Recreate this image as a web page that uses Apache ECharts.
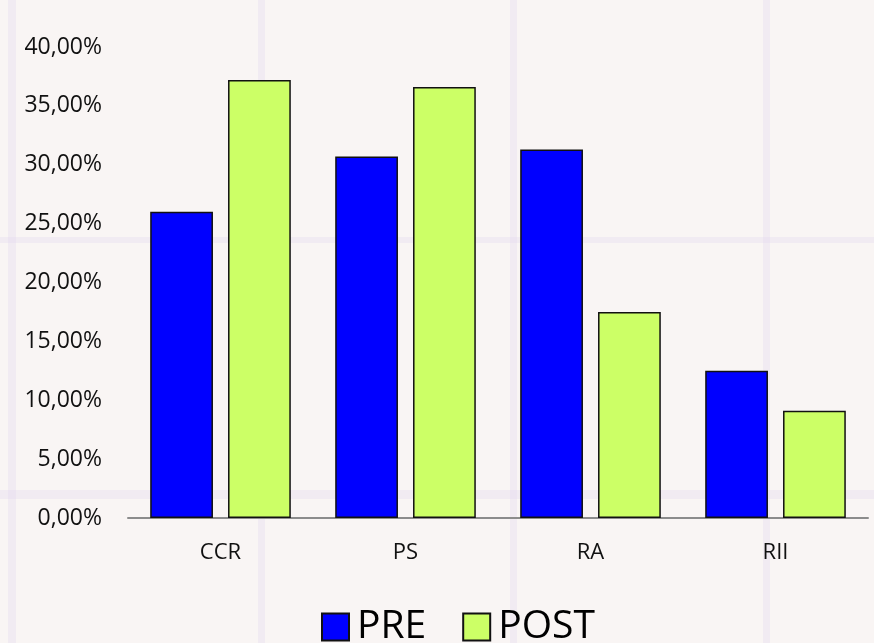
<!DOCTYPE html>
<html>
<head>
<meta charset="utf-8">
<script src="https://cdn.jsdelivr.net/npm/echarts@6/dist/echarts.min.js"></script>
<style>
html,body{margin:0;padding:0;background:#f9f5f4;}
#c{width:874px;height:643px;}
</style>
</head>
<body>
<div id="c"></div>
<script>
var categories = ['CCR', 'PS', 'RA', 'RII'];
var preValues = [26.0, 30.7, 31.3, 12.5];
var postValues = [37.2, 36.6, 17.5, 9.1];
var yTicks = [0, 5, 10, 15, 20, 25, 30, 35, 40];

var chart = echarts.init(document.getElementById('c'), null, {renderer: 'canvas'});
var bandColor = 'rgba(228,218,238,0.38)';
var bands = [];
[[8,8],[258,7],[510,7],[763,7]].forEach(function(b){
  bands.push({type:'rect', z:-10, silent:true, shape:{x:b[0], y:0, width:b[1], height:643}, style:{fill:bandColor}});
});
[[237,6],[490,9]].forEach(function(b){
  bands.push({type:'rect', z:-10, silent:true, shape:{x:0, y:b[0], width:874, height:b[1]}, style:{fill:bandColor}});
});

chart.setOption({
  backgroundColor: '#f9f5f4',
  animation: false,
  textStyle: {fontFamily: 'Open Sans'},
  graphic: bands,
  grid: {left: 128, right: 6, top: 47, bottom: 125, containLabel: false},
  legend: {
    data: ['PRE', 'POST'],
    left: 316,
    top: 601,
    icon: 'rect',
    itemWidth: 27,
    itemHeight: 27,
    itemGap: 36,
    textStyle: {fontSize: 39, color: '#000', fontFamily: 'Open Sans', padding: [0, 0, 0, 3], lineHeight: 42}
  },
  xAxis: {
    type: 'category',
    data: categories,
    axisLine: {lineStyle: {color: '#8c8c8c', width: 2}},
    axisTick: {show: false},
    axisLabel: {fontSize: 22, color: '#111', margin: 24, fontFamily: 'Open Sans'}
  },
  yAxis: {
    type: 'value',
    min: yTicks[0],
    max: yTicks[yTicks.length - 1],
    interval: 5,
    axisLine: {show: false},
    axisTick: {show: false},
    splitLine: {show: false},
    axisLabel: {
      fontSize: 23, color: '#111', margin: 26, fontFamily: 'Open Sans',
      formatter: function(v){ return v.toFixed(2).replace('.', ',') + '%'; }
    }
  },
  series: [
    {
      name: 'PRE', type: 'bar', data: preValues,
      barGap: '24%', barCategoryGap: '24%',
      itemStyle: {color: '#0000ff', borderColor: '#111', borderWidth: 1.5}
    },
    {
      name: 'POST', type: 'bar', data: postValues,
      itemStyle: {color: '#ccff66', borderColor: '#111', borderWidth: 1.5}
    }
  ]
});
</script>
</body>
</html>
